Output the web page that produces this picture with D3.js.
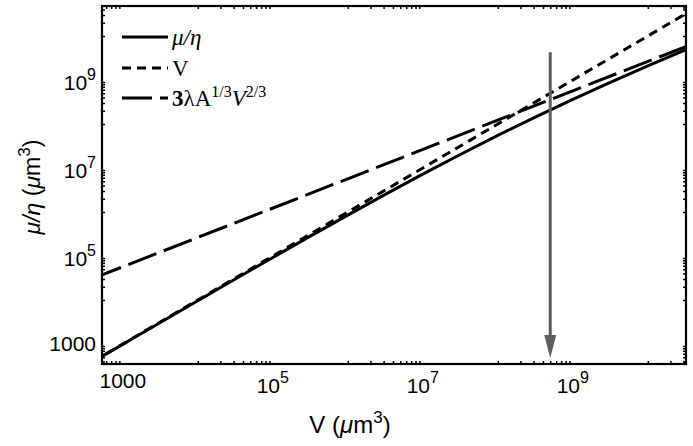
<!DOCTYPE html>
<html>
<head>
<meta charset="utf-8">
<script src="https://cdn.jsdelivr.net/npm/d3@7"></script>
<style>
body { margin: 0; background: #fff; }
text { font-family: "Liberation Sans", Arial, sans-serif; fill: #000; }
.leg { font-family: "Liberation Serif", "Times New Roman", serif; font-size: 23px; }
</style>
</head>
<body>
<script>
// solid curve mu/eta
const volume = [400, 1e3, 3.16e3, 1e4, 3.16e4, 1e5, 3.16e5, 1e6, 3.16e6, 1e7, 3.16e7, 1e8, 3.16e8, 1e9, 3.16e9, 1e10, 4e10];
const muEta = [395, 982, 3.08e3, 9.64e3, 3.0e4, 9.25e4, 2.83e5, 8.51e5, 2.51e6, 7.26e6, 2.03e7, 5.51e7, 1.44e8, 3.62e8, 8.83e8, 2.09e9, 5.70e9];

// dotted line: V
const vLineX = [400, 4e10];
const vLineY = [400, 4e10];

// long dashed line: 3 lambda A^(1/3) V^(2/3)
const surfX = [400, 1e6, 4e10];
const surfY = [3.09e4, 5.69e6, 6.65e9];

// grey arrow
const arrowV = 5e8;
const arrowFrom = 4.3e9;
const arrowTo = 480;

const xDomain = [528, 3.23e10];
const yDomain = [351, 4.81e10];
const xMajor = [1e3, 1e5, 1e7, 1e9];
const xMajorLabels = ["1000", "10^5", "10^7", "10^9"];
const yMajor = [1e3, 1e5, 1e7, 1e9];
const yMajorLabels = ["1000", "10^5", "10^7", "10^9"];
const minorDecades = [1e2, 1e4, 1e6, 1e8, 1e10];
const minorSteps = [1, 2, 3, 4, 5, 6, 7, 8, 9];

const W = 693, H = 446;
const margin = { top: 6, right: 7, bottom: 82, left: 102 },
    width = W - margin.left - margin.right,
    height = H - margin.top - margin.bottom;

var svg = d3.select("body").append("svg")
    .attr("width", W)
    .attr("height", H);

var x = d3.scaleLog().domain(xDomain).range([0, width]);
var y = d3.scaleLog().domain(yDomain).range([height, 0]);

var g = svg.append("g")
    .attr("transform", "translate(" + margin.left + "," + margin.top + ")");

g.append("clipPath").attr("id", "clip")
    .append("rect").attr("width", width).attr("height", height);

var minorX = [], minorY = [];
minorDecades.forEach(function(d) {
    minorSteps.forEach(function(k) {
        var v = d * k;
        if (v > xDomain[0] && v < xDomain[1] && xMajor.indexOf(v) < 0) minorX.push(v);
        if (v > yDomain[0] && v < yDomain[1] && yMajor.indexOf(v) < 0) minorY.push(v);
    });
});

function drawAxis(axisFn, scale, major, minor, transform) {
    var a = g.append("g").attr("transform", transform);
    a.call(axisFn(scale).tickValues(major).tickSize(-6).tickSizeOuter(0).tickFormat(""));
    a.call(axisFn(scale).tickValues(minor).tickSize(-3).tickSizeOuter(0).tickFormat(""));
    a.selectAll(".domain").remove();
    a.selectAll("line").attr("stroke", "#000").attr("stroke-width", 1.5);
}
drawAxis(d3.axisBottom, x, xMajor, minorX, "translate(0," + height + ")");
drawAxis(d3.axisTop, x, xMajor, minorX, "translate(0,0)");
drawAxis(d3.axisLeft, y, yMajor, minorY, "translate(0,0)");
drawAxis(d3.axisRight, y, yMajor, minorY, "translate(" + width + ",0)");

g.append("rect")
    .attr("width", width)
    .attr("height", height)
    .attr("fill", "none")
    .attr("stroke", "#000")
    .attr("stroke-width", 2.2);

// tick labels
function writeLabel(sel, lab) {
    var parts = lab.split("^");
    sel.append("tspan").text(parts[0]);
    if (parts[1]) sel.append("tspan").attr("dy", -10).style("font-size", "16px").text(parts[1]);
}
xMajor.forEach(function(v, i) {
    var lab = xMajorLabels[i];
    var t = g.append("text")
        .attr("x", x(v))
        .attr("y", height + (lab.indexOf("^") < 0 ? 24 : 29))
        .attr("text-anchor", "middle")
        .style("font-size", "21px");
    writeLabel(t, lab);
});
yMajor.forEach(function(v, i) {
    var lab = yMajorLabels[i];
    var t = g.append("text")
        .attr("x", -6)
        .attr("y", y(v) + (lab.indexOf("^") < 0 ? 7 : 10))
        .attr("text-anchor", "end")
        .style("font-size", "21px");
    writeLabel(t, lab);
});

// axis titles
var xt = svg.append("text")
    .attr("x", 350)
    .attr("y", 433)
    .attr("text-anchor", "middle")
    .style("font-size", "24px");
xt.append("tspan").text("V (");
xt.append("tspan").style("font-style", "italic").text("\u03bc");
xt.append("tspan").text("m");
xt.append("tspan").attr("dy", -10).style("font-size", "17px").text("3");
xt.append("tspan").attr("dy", 10).text(")");

var yt = svg.append("text")
    .attr("transform", "translate(40,187) rotate(-90)")
    .attr("text-anchor", "middle")
    .style("font-size", "23px");
yt.append("tspan").style("font-style", "italic").text("\u03bc/\u03b7");
yt.append("tspan").text(" (");
yt.append("tspan").style("font-style", "italic").text("\u03bc");
yt.append("tspan").text("m");
yt.append("tspan").attr("dy", -10).style("font-size", "17px").text("3");
yt.append("tspan").attr("dy", 10).text(")");

// curves
var plot = g.append("g").attr("clip-path", "url(#clip)");
var line = d3.line()
    .x(function(d) { return x(d[0]); })
    .y(function(d) { return y(d[1]); })
    .curve(d3.curveMonotoneX);

plot.append("path")
    .datum(d3.zip(vLineX, vLineY))
    .attr("d", line)
    .attr("fill", "none")
    .attr("stroke", "#000")
    .attr("stroke-width", 3)
    .attr("stroke-dasharray", "9,6");

plot.append("path")
    .datum(d3.zip(surfX, surfY))
    .attr("d", line)
    .attr("fill", "none")
    .attr("stroke", "#000")
    .attr("stroke-width", 3)
    .attr("stroke-dasharray", "30,8");

plot.append("path")
    .datum(d3.zip(volume, muEta))
    .attr("d", line)
    .attr("fill", "none")
    .attr("stroke", "#000")
    .attr("stroke-width", 3);

// arrow
var arrowColor = "#5e5e5e";
plot.append("line")
    .attr("x1", x(arrowV)).attr("x2", x(arrowV))
    .attr("y1", y(arrowFrom)).attr("y2", y(arrowTo) - 20)
    .attr("stroke", arrowColor)
    .attr("stroke-width", 3);
plot.append("path")
    .attr("d", "M" + (x(arrowV) - 6) + "," + (y(arrowTo) - 23) +
        "L" + (x(arrowV) + 6) + "," + (y(arrowTo) - 23) +
        "L" + x(arrowV) + "," + y(arrowTo) + "Z")
    .attr("fill", arrowColor);

// legend
var legend = g.append("g").attr("transform", "translate(20,0)");
var legRows = [
    { y: 31, dash: null },
    { y: 62, dash: "9,6" },
    { y: 92, dash: "30,8" }
];
legRows.forEach(function(r) {
    legend.append("line")
        .attr("x1", 0).attr("x2", 46)
        .attr("y1", r.y).attr("y2", r.y)
        .attr("stroke", "#000")
        .attr("stroke-width", 3)
        .attr("stroke-dasharray", r.dash);
});
var l1 = legend.append("text").attr("class", "leg").attr("x", 50).attr("y", 39);
l1.append("tspan").style("font-style", "italic").text("\u03bc/\u03b7");
var l2 = legend.append("text").attr("class", "leg").attr("x", 50).attr("y", 70);
l2.append("tspan").text("V");
var l3 = legend.append("text").attr("class", "leg").attr("x", 50).attr("y", 100);
l3.append("tspan").style("font-weight", "bold").text("3");
l3.append("tspan").text("\u03bbA");
l3.append("tspan").attr("dy", -9).style("font-size", "16px").text("1/3");
l3.append("tspan").attr("dy", 9).style("font-style", "italic").text("V");
l3.append("tspan").attr("dy", -9).style("font-size", "16px").text("2/3");
</script>
</body>
</html>
